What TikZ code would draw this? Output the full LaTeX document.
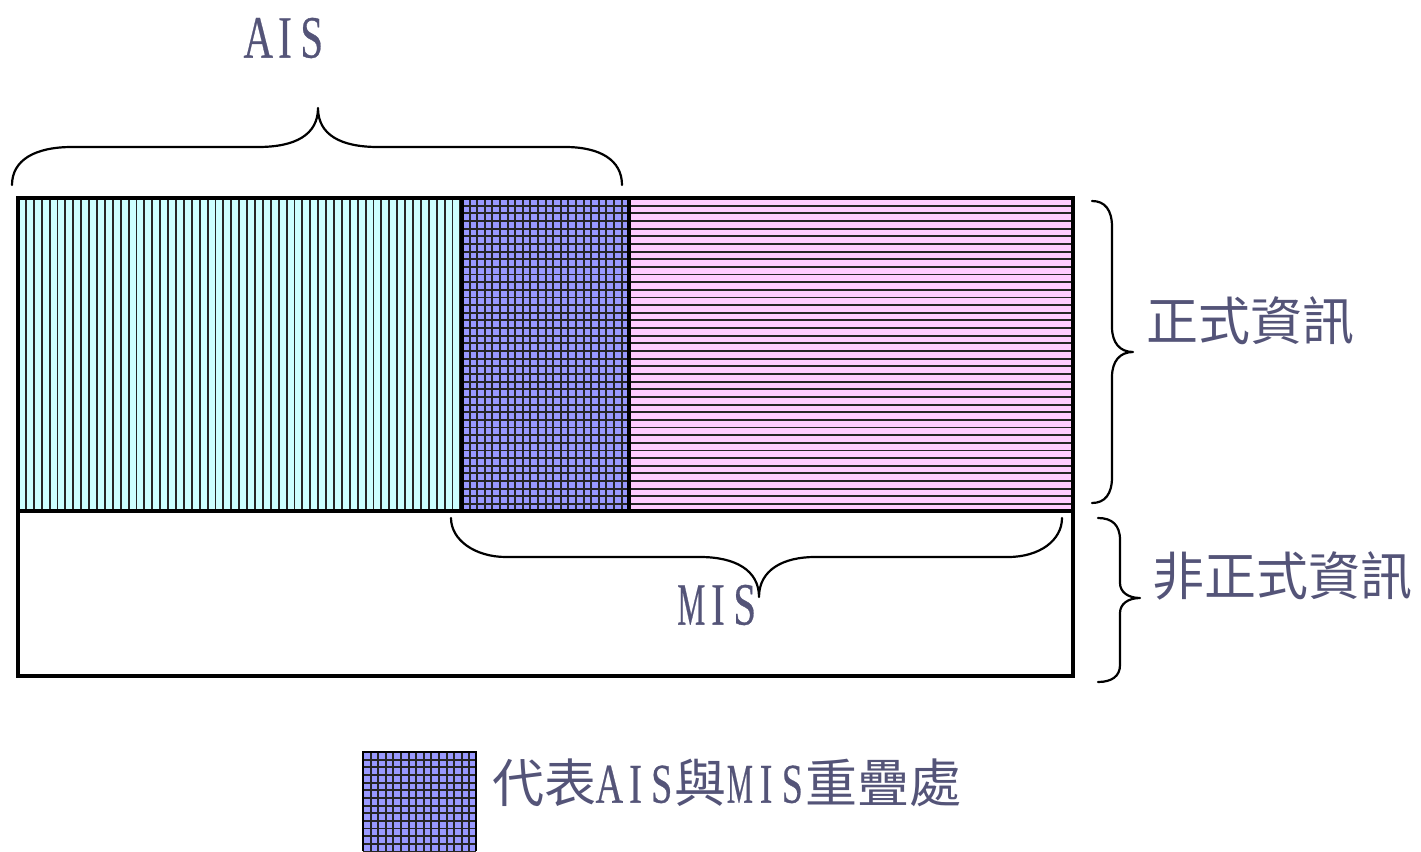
\documentclass[tikz,border=0pt]{standalone}
\usepackage{fontspec}
\usepackage{graphicx}
\setmainfont{Liberation Serif}
\newfontfamily\cjk{Noto Sans CJK TC}
\newfontfamily\latf[FakeBold=0.6]{Liberation Serif}
\definecolor{txt}{RGB}{84,84,120}
\definecolor{aiscol}{RGB}{204,255,255}
\definecolor{miscol}{RGB}{153,153,255}
\definecolor{infcol}{RGB}{255,204,255}
% one half-width letter in a fixed cell: [#1 squeeze] #2 letter, #3 cell width
\newcommand{\hw}[3][0.68]{\makebox[#3pt]{\scalebox{#1}[1]{#2}}}
\newcommand{\aisbig}{{\latf\fontsize{60}{60}\selectfont\hw{A}{26.7}\hw{I}{26.7}\hw{S}{26.7}}}
\newcommand{\misbig}{{\latf\fontsize{60}{60}\selectfont\hw[0.52]{M}{26.7}\hw{I}{26.7}\hw{S}{26.7}}}
\newcommand{\aissmall}{{\latf\fontsize{56}{56}\selectfont\hw{A}{26.2}\hw{I}{26.2}\hw{S}{26.2}}}
\newcommand{\missmall}{{\latf\fontsize{56}{56}\selectfont\hw[0.52]{M}{26.2}\hw{I}{26.2}\hw{S}{26.2}}}
\begin{document}
\begin{tikzpicture}[x=1pt,y=-1pt,
  hatch/.style={line width=1.9pt, draw=black!85},
  frame/.style={line width=3.2pt, draw=black},
  bracestyle/.style={line width=2.2pt, draw=black, line cap=round, line join=round},
  lbl/.style={text=txt, inner sep=0pt, font=\cjk\fontsize{52}{52}\selectfont}]
\useasboundingbox (0,0) rectangle (1421,851);
% fills
\fill[aiscol] (18,198) rectangle (462,511);
\fill[miscol] (462,198) rectangle (629,511);
\fill[infcol] (629,198) rectangle (1073,511);
% AIS vertical hatch
\begin{scope}
\clip (18,198) rectangle (462,511);
\foreach \i in {1,...,56} \draw[hatch] ({18+7.9*\i},198) -- ({18+7.9*\i},511);
\end{scope}
% overlap grid
\begin{scope}
\clip (462,198) rectangle (629,511);
\foreach \i in {1,...,22} \draw[hatch] ({462+7.6*\i},198) -- ({462+7.6*\i},511);
\foreach \j in {1,...,41} \draw[hatch] (462,{198+7.65*\j}) -- (629,{198+7.65*\j});
\end{scope}
% MIS horizontal hatch
\begin{scope}
\clip (629,198) rectangle (1073,511);
\foreach \j in {1,...,41} \draw[hatch] (629,{198+7.65*\j}) -- (1073,{198+7.65*\j});
\end{scope}
% frame
\draw[frame] (18,198) rectangle (1073,676);
\draw[frame] (18,511) -- (1073,511);
\draw[frame] (462,198) -- (462,511);
\draw[frame] (629,198) -- (629,511);
% braces
\draw[bracestyle] (12,185) .. controls (12,160) and (35,147) .. (72,147) -- (258,147)
  .. controls (295,147) and (318,135) .. (318,108)
  .. controls (318,135) and (341,147) .. (378,147) -- (565,147)
  .. controls (600,147) and (622,160) .. (622,185);
\draw[bracestyle] (451,518) .. controls (451,540) and (475,557) .. (506,557) -- (700,557)
  .. controls (735,557) and (759,570) .. (759,597)
  .. controls (759,570) and (783,557) .. (815,557) -- (1008,557)
  .. controls (1040,557) and (1062,540) .. (1062,518);
\draw[bracestyle] (1092,201) .. controls (1105,201) and (1112,210) .. (1112,227) -- (1112,327)
  .. controls (1112,343) and (1120,352) .. (1133,352)
  .. controls (1120,352) and (1112,361) .. (1112,377) -- (1112,477)
  .. controls (1112,494) and (1105,503) .. (1092,503);
\draw[bracestyle] (1098,518) .. controls (1112,518) and (1120,525) .. (1120,540) -- (1120,583)
  .. controls (1120,592) and (1128,598) .. (1140,598)
  .. controls (1128,598) and (1120,604) .. (1120,613) -- (1120,665)
  .. controls (1120,676) and (1112,682) .. (1098,682);
% labels
\node[lbl] (ais) at (285,38) {\aisbig};
\node[lbl] (mis) at (718,605) {\misbig};
\node[lbl] (formal) at (1250,321) {正式資訊};
\node[lbl] (informal) at (1282,576) {非正式資訊};
% legend
\fill[miscol] (363,752) rectangle (476,851);
\begin{scope}
\clip (363,752) rectangle (476,851);
\foreach \i in {1,...,14} \draw[hatch] ({363+7.6*\i},752) -- ({363+7.6*\i},851);
\foreach \j in {1,...,13} \draw[hatch] (363,{752+7.65*\j}) -- (476,{752+7.65*\j});
\end{scope}
\draw[line width=1.5pt] (363,851) -- (363,752) -- (476,752) -- (476,851);
\node[lbl, anchor=west] (legend) at (492,783) {代表\aissmall 與\missmall 重疊處};
\end{tikzpicture}
\end{document}
